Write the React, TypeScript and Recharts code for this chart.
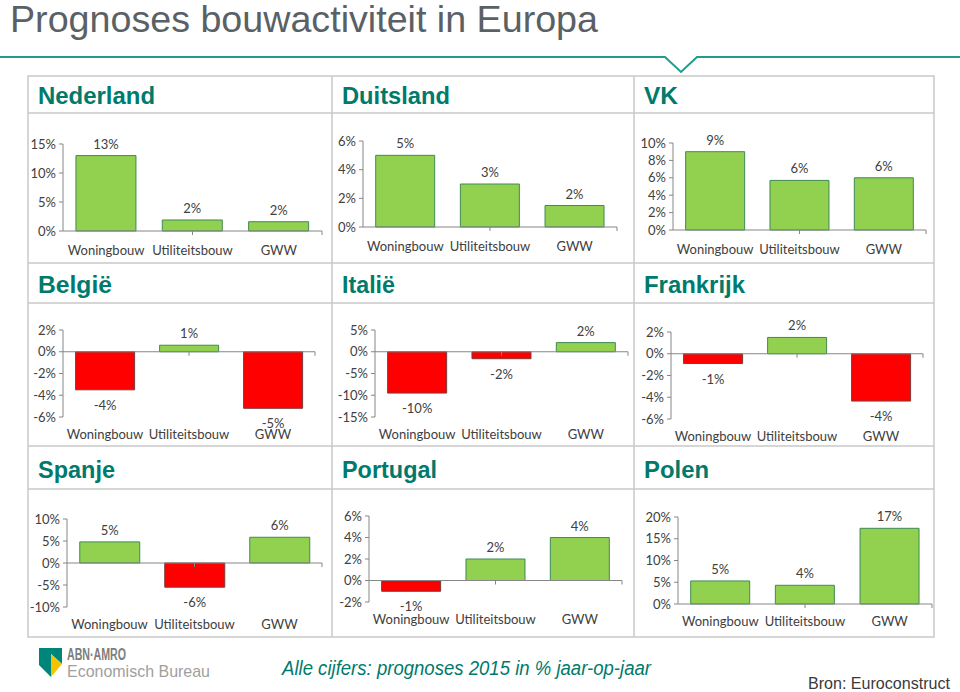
import { BarChart, Bar, XAxis, YAxis, ReferenceLine, LabelList, Cell } from "recharts";

const CATEGORIES = ["Woningbouw", "Utiliteitsbouw", "GWW"];

// forecast 2015, % year-on-year
const NEDERLAND = [13, 1.9, 1.6];
const DUITSLAND = [5, 3, 1.5];
const VK = [9, 5.7, 6];
const BELGIE = [-3.5, 0.6, -5.2];
const ITALIE = [-9.5, -1.6, 2.1];
const FRANKRIJK = [-0.9, 1.5, -4.35];
const SPANJE = [4.8, -5.5, 5.85];
const PORTUGAL = [-1, 2, 4];
const POLEN = [5.3, 4.3, 17.4];

const TICKS_NL = [0, 5, 10, 15];
const TICKS_DE = [0, 2, 4, 6];
const TICKS_VK = [0, 2, 4, 6, 8, 10];
const TICKS_BE = [-6, -4, -2, 0, 2];
const TICKS_IT = [-15, -10, -5, 0, 5];
const TICKS_FR = [-6, -4, -2, 0, 2];
const TICKS_ES = [-10, -5, 0, 5, 10];
const TICKS_PT = [-2, 0, 2, 4, 6];
const TICKS_PL = [0, 5, 10, 15, 20];

const TEAL = "#007a6c";
const GRID = "#c9c9c9";
const AXIS = "#868686";
const TEXT = "#404040";
const CHART_FONT = "Lato, 'Open Sans', sans-serif";

const COLS = [28, 332, 634, 934];
const CHART_ROWS = [
  [113, 263],
  [303, 446],
  [489, 637],
];
// category label distance below the plot, per row
const LABEL_GAP = [15, 13, 13];

// plot boxes: y-axis x, x-axis right end, top of domain, bottom of domain
const PANELS = [
  { title: "Nederland", values: NEDERLAND, ticks: TICKS_NL, col: 0, row: 0, box: [63, 322, 144, 231], titleW: 117 },
  { title: "Duitsland", values: DUITSLAND, ticks: TICKS_DE, col: 1, row: 0, box: [363, 617, 141, 227], titleW: 108 },
  { title: "VK", values: VK, ticks: TICKS_VK, col: 2, row: 0, box: [673, 926, 143, 230], titleW: 34 },
  { title: "België", values: BELGIE, ticks: TICKS_BE, col: 0, row: 1, box: [63, 315, 330, 417], titleW: 74 },
  { title: "Italië", values: ITALIE, ticks: TICKS_IT, col: 1, row: 1, box: [375, 628, 330, 417], titleW: 53 },
  { title: "Frankrijk", values: FRANKRIJK, ticks: TICKS_FR, col: 2, row: 1, box: [671, 923, 332, 419], titleW: 101 },
  { title: "Spanje", values: SPANJE, ticks: TICKS_ES, col: 0, row: 2, box: [67, 322, 519, 607], titleW: 77 },
  { title: "Portugal", values: PORTUGAL, ticks: TICKS_PT, col: 1, row: 2, box: [369, 622, 516, 602], titleW: 95 },
  { title: "Polen", values: POLEN, ticks: TICKS_PL, col: 2, row: 2, box: [678, 932, 517, 604], titleW: 65 },
];

const HEADER_BASELINES = [104, 293, 478];

function fmt(v: number) {
  return `${Math.sign(v) * Math.round(Math.abs(v))}%`;
}

function ValueLabel(props: any) {
  const { x, y, width, height, value } = props;
  const top = Math.min(Number(y), Number(y) + Number(height));
  const bottom = Math.max(Number(y), Number(y) + Number(height));
  const neg = value < 0;
  return (
    <text
      x={Number(x) + Number(width) / 2}
      y={neg ? bottom + 15 : top - 12}
      textAnchor="middle"
      dominantBaseline="central"
      fill={TEXT}
      fontSize={13}
      fontFamily={CHART_FONT}
    >
      {fmt(value)}
    </text>
  );
}

function Panel({ panel }: { panel: (typeof PANELS)[number] }) {
  const [left, right, top, bottom] = panel.box;
  const cx = COLS[panel.col];
  const cw = COLS[panel.col + 1] - cx;
  const [cy, cb] = CHART_ROWS[panel.row];
  const ch = cb - cy;
  const xh = 30;
  const min = panel.ticks[0];
  const max = panel.ticks[panel.ticks.length - 1];
  const tickLen = 4 / ((bottom - top) / (max - min));
  const data = CATEGORIES.map((name, i) => ({ name, value: panel.values[i] }));

  return (
    <div style={{ position: "absolute", left: cx, top: cy }}>
      <BarChart
        width={cw}
        height={ch}
        data={data}
        margin={{ top: top - cy, right: cx + cw - right, left: 0, bottom: cb - bottom - xh }}
        barCategoryGap="15%"
      >
        <XAxis
          dataKey="name"
          height={xh}
          axisLine={false}
          tickLine={false}
          tickSize={0}
          tickMargin={LABEL_GAP[panel.row]}
          interval={0}
          tick={{ fill: TEXT, fontSize: 13, fontFamily: CHART_FONT }}
        />
        <XAxis xAxisId="grid" type="number" domain={[0, 3]} hide />
        <YAxis
          domain={[min, max]}
          ticks={panel.ticks}
          interval={0}
          width={left - cx}
          stroke={AXIS}
          tickSize={4}
          tickMargin={3}
          tickFormatter={(v: number) => `${v}%`}
          tick={{ fill: TEXT, fontSize: 13, fontFamily: CHART_FONT }}
        />
        <ReferenceLine y={0} stroke={AXIS} />
        {[1, 2, 3].map((k) => (
          <ReferenceLine
            key={k}
            xAxisId="grid"
            segment={[
              { x: k, y: 0 },
              { x: k, y: -tickLen },
            ]}
            stroke={AXIS}
            ifOverflow="visible"
          />
        ))}
        <Bar dataKey="value" isAnimationActive={false}>
          {data.map((d) => (
            <Cell
              key={d.name}
              fill={d.value < 0 ? "#ff0000" : "#92d050"}
              stroke={d.value < 0 ? "#7a3a3a" : "#3f8a55"}
              strokeWidth={1}
            />
          ))}
          <LabelList dataKey="value" content={ValueLabel} />
        </Bar>
      </BarChart>
    </div>
  );
}

export default function App() {
  return (
    <div
      style={{
        position: "absolute",
        left: 0,
        top: 0,
        width: 960,
        height: 692,
        background: "#fff",
        overflow: "hidden",
      }}
    >
      <svg width={960} height={692} style={{ position: "absolute", left: 0, top: 0 }}>
        <text
          x={10}
          y={32}
          fontSize={36}
          fill="#5a6165"
          fontFamily="'Liberation Sans', Arial, sans-serif"
          textLength={588}
          lengthAdjust="spacingAndGlyphs"
        >
          Prognoses bouwactiviteit in Europa
        </text>
        <polyline
          points="0,57 665,57 681,72 697,57 960,57"
          fill="none"
          stroke="#1f9c8c"
          strokeWidth={2}
        />

        {/* table */}
        <rect x={COLS[0]} y={76} width={COLS[3] - COLS[0]} height={637 - 76} fill="none" stroke={GRID} strokeWidth={1.5} />
        {[113, 263, 303, 446, 489].map((y) => (
          <line key={y} x1={COLS[0]} x2={COLS[3]} y1={y} y2={y} stroke={GRID} strokeWidth={1.5} />
        ))}
        {[COLS[1], COLS[2]].map((x) => (
          <line key={x} x1={x} x2={x} y1={76} y2={637} stroke={GRID} strokeWidth={1.5} />
        ))}
        {PANELS.map((p) => (
          <text
            key={p.title}
            x={COLS[p.col] + 10}
            y={HEADER_BASELINES[p.row]}
            fontSize={24}
            fontWeight="bold"
            fill={TEAL}
            fontFamily="'Liberation Sans', Arial, sans-serif"
            textLength={p.titleW}
            lengthAdjust="spacingAndGlyphs"
          >
            {p.title}
          </text>
        ))}

        {/* footer */}
        <polygon points="39,648 62,648 62,664 51,654 51,677 39,665" fill="#00857a" />
        <polygon points="51,654 62,664 51,677" fill="#f5c400" />
        <text
          x={67}
          y={660}
          fontSize={16}
          fontWeight="bold"
          fill="#7d7d7d"
          fontFamily="'Liberation Sans', Arial, sans-serif"
          textLength={59}
          lengthAdjust="spacingAndGlyphs"
        >
          ABN·AMRO
        </text>
        <text
          x={67}
          y={677}
          fontSize={17}
          fill="#a0a0a0"
          fontFamily="'Liberation Sans', Arial, sans-serif"
          textLength={143}
          lengthAdjust="spacingAndGlyphs"
        >
          Economisch Bureau
        </text>
        <text
          x={282}
          y={675}
          fontSize={20}
          fontStyle="italic"
          fill={TEAL}
          fontFamily="'Liberation Sans', Arial, sans-serif"
          textLength={369}
          lengthAdjust="spacingAndGlyphs"
        >
          Alle cijfers: prognoses 2015 in % jaar-op-jaar
        </text>
        <text
          x={808}
          y={689}
          fontSize={16}
          fill="#3a3a3a"
          fontFamily="'Liberation Sans', Arial, sans-serif"
          textLength={142}
          lengthAdjust="spacingAndGlyphs"
        >
          Bron: Euroconstruct
        </text>
      </svg>

      {PANELS.map((p) => (
        <Panel key={p.title} panel={p} />
      ))}
    </div>
  );
}
